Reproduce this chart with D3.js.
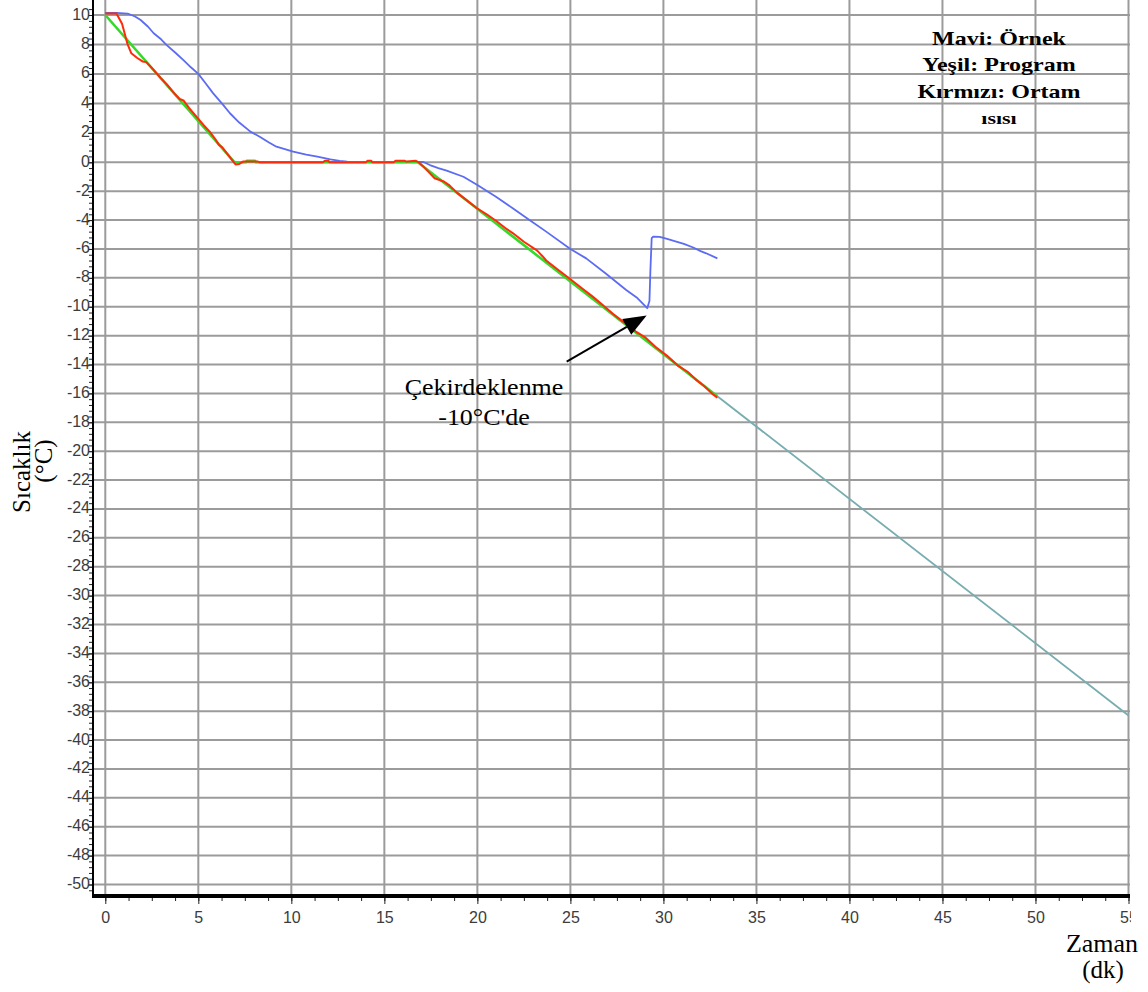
<!DOCTYPE html>
<html>
<head>
<meta charset="utf-8">
<script src="https://cdn.jsdelivr.net/npm/d3@7"></script>
<style>
  body { margin: 0; background: #fff; }
  svg { display: block; background: #fff; }
  .tick text { font-family: "Liberation Sans", Arial, sans-serif; font-size: 16px; fill: #3c3c3c; }
  .tick line { stroke: #222; }
  .serif { font-family: "Liberation Serif", "Times New Roman", serif; fill: #000; }
</style>
</head>
<body>
<svg id="chart" width="1148" height="992"></svg>
<script>
// sample temperature (blue) - [minutes, °C]
const ornek = [
  [0, 10.15], [0.6, 10.15], [1.2, 10.1], [1.6, 9.9], [1.9, 9.66], [2.3, 9.2], [2.6, 8.76],
  [3.0, 8.35], [3.3, 7.96], [3.8, 7.4], [4.2, 6.94], [4.6, 6.45], [5.0, 6.0], [5.4, 5.35],
  [5.8, 4.68], [6.3, 3.95], [6.7, 3.33], [7.2, 2.7], [7.8, 2.08], [8.3, 1.74], [8.8, 1.35],
  [9.2, 1.06], [10.1, 0.72], [10.8, 0.52], [11.4, 0.38], [12.1, 0.2], [12.6, 0.1], [13.0, 0.04],
  [14.0, 0.02], [15.0, 0.02], [16.0, 0.03], [17.1, 0.02], [17.45, -0.19], [17.9, -0.4],
  [18.35, -0.58], [19.25, -1.0], [20.0, -1.57], [21.0, -2.38], [21.9, -3.18], [22.8, -4.0],
  [23.7, -4.8], [25.0, -6.0], [25.85, -6.65], [26.9, -7.7], [28.0, -8.84], [28.6, -9.4],
  [29.13, -10.1], [29.25, -9.6], [29.3, -7.5], [29.37, -5.25], [29.45, -5.15], [29.8, -5.17],
  [30.2, -5.3], [30.6, -5.45], [31.1, -5.65], [31.6, -5.9], [32.0, -6.15], [32.3, -6.3], [32.9, -6.65]
];

// program (green) and the rest of the program that was not run yet (teal)
const program = [[0, 10], [6.95, 0], [7.55, 0], [7.6, 0.1], [8.05, 0.1], [8.1, 0], [16.8, 0], [32.9, -16.2]];
const programRest = [[32.9, -16.2], [55, -38.3]];

// chamber temperature (red)
const ortam = [
  [0, 10.1], [0.6, 10.1], [0.9, 9.4], [1.2, 8.0], [1.4, 7.4], [1.7, 7.1], [2.0, 6.85], [2.2, 6.8],
  [2.5, 6.4], [3.0, 5.7], [3.3, 5.3], [3.7, 4.7], [4.0, 4.3], [4.2, 4.2], [4.5, 3.7], [5.0, 2.95],
  [5.3, 2.5], [5.6, 2.1], [5.9, 1.6], [6.1, 1.2], [6.3, 1.0], [6.6, 0.5], [6.85, 0.1], [7.0, -0.15],
  [7.2, -0.12], [7.4, 0.05], [7.6, 0.05], [8.2, 0.05], [8.3, 0], [11.7, 0], [11.8, 0.1], [12.0, 0.1],
  [12.05, 0], [14.0, 0], [14.1, 0.1], [14.3, 0.1], [14.35, 0], [15.5, 0], [15.6, 0.1], [16.1, 0.1],
  [16.2, 0.05], [16.7, 0.1], [16.85, 0], [17.1, -0.3], [17.4, -0.7], [17.7, -1.1], [18.2, -1.33],
  [18.5, -1.6], [18.9, -2.1], [19.4, -2.6], [20.0, -3.2], [20.5, -3.6], [21.0, -4.05], [21.5, -4.55],
  [21.9, -4.9], [22.5, -5.5], [23.2, -6.1], [23.5, -6.5], [23.7, -6.8], [24.3, -7.4], [25.0, -8.1],
  [25.6, -8.7], [26.2, -9.3], [26.8, -9.95], [27.3, -10.5], [27.9, -11.1], [28.5, -11.7], [29.0, -12.1],
  [29.6, -12.8], [30.2, -13.4], [30.8, -14.1], [31.3, -14.5], [31.8, -15.1], [32.2, -15.5],
  [32.6, -16.0], [32.9, -16.3]
];

// ticks
const yMajor = d3.range(-50, 11, 2);
const yMinor = d3.range(-126, 27).map(i => +(i * 0.4).toFixed(1));
const xMajor = d3.range(0, 56, 5);
const xMinor = d3.range(0, 45).map(i => i * 1.25);

// texts
const legendLines = ["Mavi: Örnek", "Yeşil: Program", "Kırmızı: Ortam", "ısısı"];
const noteLines = ["Çekirdeklenme", "-10°C'de"];
const noteArrow = {from: [24.8, -13.8], to: [29.1, -10.6]};

const box = {left: 93, right: 1130, top: 0, bottom: 896};

const svg = d3.select("#chart");

let x = d3.scaleLinear().domain([0, 55]).range([105.3, 1128.5]);
let y = d3.scaleLinear().domain([-50, 0, 10]).range([884.5, 162.3, 15]);

// grid
let grid = svg.append("g").attr("stroke", "#9b9b9b").attr("stroke-width", 2);
grid.selectAll(".h").data(yMajor).enter().append("line")
    .attr("x1", box.left).attr("x2", box.right)
    .attr("y1", d => y(d)).attr("y2", d => y(d));
grid.selectAll(".v").data(xMajor).enter().append("line")
    .attr("x1", d => x(d)).attr("x2", d => x(d))
    .attr("y1", box.top).attr("y2", box.bottom);

// y axis
let yMinorG = svg.append("g").attr("transform", "translate(" + box.left + ",0)")
    .call(d3.axisLeft(y).tickValues(yMinor).tickSize(4).tickFormat(""));
yMinorG.select(".domain").remove();
let yAxisG = svg.append("g").attr("transform", "translate(" + box.left + ",0)")
    .call(d3.axisLeft(y).tickValues(yMajor).tickSize(5).tickPadding(-2).tickFormat(d => String(d)));
yAxisG.select(".domain").remove();
yAxisG.selectAll(".tick text").attr("dy", "0.25em");

// x axis
svg.append("clipPath").attr("id", "xclip")
    .append("rect").attr("x", 0).attr("y", 0).attr("width", box.right + 1).attr("height", 100);
let xMinorG = svg.append("g").attr("transform", "translate(0," + box.bottom + ")")
    .call(d3.axisBottom(x).tickValues(xMinor).tickSize(5).tickFormat(""));
xMinorG.select(".domain").remove();
let xAxisG = svg.append("g").attr("transform", "translate(0," + box.bottom + ")")
    .attr("clip-path", "url(#xclip)")
    .call(d3.axisBottom(x).tickValues(xMajor).tickSize(8).tickPadding(8).tickFormat(d => String(d)));
xAxisG.select(".domain").remove();

// axis lines
svg.append("line").attr("x1", box.left).attr("x2", box.left)
    .attr("y1", box.top).attr("y2", box.bottom)
    .attr("stroke", "#000").attr("stroke-width", 2);
svg.append("line").attr("x1", box.left - 1).attr("x2", box.right)
    .attr("y1", box.bottom).attr("y2", box.bottom)
    .attr("stroke", "#000").attr("stroke-width", 4);

// series
let line = d3.line().x(d => x(d[0])).y(d => y(d[1]));
let series = [
    {data: programRest, color: "#78adaf", width: 1.8},
    {data: ornek, color: "#5b6cf2", width: 1.8},
    {data: program, color: "#35d92a", width: 2.6},
    {data: ortam, color: "#ff2a0a", width: 2}
];
svg.selectAll(".series").data(series).enter().append("path")
    .attr("class", "series")
    .attr("fill", "none")
    .attr("stroke", d => d.color)
    .attr("stroke-width", d => d.width)
    .attr("stroke-linejoin", "round")
    .attr("d", d => line(d.data));

// annotation arrow
let ax0 = x(noteArrow.from[0]), ay0 = y(noteArrow.from[1]);
let ax1 = x(noteArrow.to[0]), ay1 = y(noteArrow.to[1]);
let len = Math.hypot(ax1 - ax0, ay1 - ay0);
let ux = (ax1 - ax0) / len, uy = (ay1 - ay0) / len;
let headL = 23, headW = 9;
let bx = ax1 - ux * headL, by = ay1 - uy * headL;
svg.append("line").attr("x1", ax0).attr("y1", ay0).attr("x2", bx).attr("y2", by)
    .attr("stroke", "#000").attr("stroke-width", 2);
svg.append("polygon")
    .attr("points", [[ax1, ay1], [bx - uy * headW, by + ux * headW], [bx + uy * headW, by - ux * headW]].join(" "))
    .attr("fill", "#000");

svg.selectAll(".note").data(noteLines).enter().append("text")
    .attr("class", "serif note")
    .attr("text-anchor", "middle")
    .attr("font-size", 26)
    .attr("transform", (d, i) => "translate(484," + (395 + i * 30) + ") scale(1,0.88)")
    .text(d => d);

// legend text
svg.selectAll(".legend").data(legendLines).enter().append("text")
    .attr("class", "serif legend")
    .attr("text-anchor", "middle")
    .attr("font-weight", "bold")
    .attr("font-size", (d, i) => i === 3 ? 22 : 24)
    .attr("transform", (d, i) => "translate(999," + (45 + i * 26.3) + ") scale(1,0.8)")
    .text(d => d);

// axis titles
svg.append("text").attr("class", "serif")
    .attr("text-anchor", "middle").attr("font-size", 25)
    .attr("transform", "translate(30,472) rotate(-90)")
    .text("Sıcaklık");
svg.append("text").attr("class", "serif")
    .attr("text-anchor", "middle").attr("font-size", 25)
    .attr("transform", "translate(52,461) rotate(-90)")
    .text("(°C)");
svg.append("text").attr("class", "serif")
    .attr("text-anchor", "middle").attr("font-size", 26)
    .attr("x", 1102).attr("y", 952)
    .text("Zaman");
svg.append("text").attr("class", "serif")
    .attr("text-anchor", "middle").attr("font-size", 25)
    .attr("x", 1103).attr("y", 978)
    .text("(dk)");
</script>
</body>
</html>
